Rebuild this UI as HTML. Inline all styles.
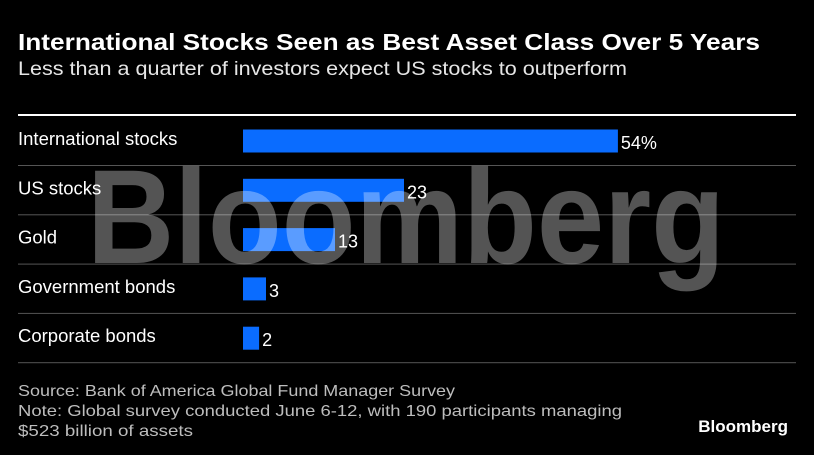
<!DOCTYPE html>
<html><head><meta charset="utf-8"><style>
body{margin:0;background:#000;width:814px;height:455px;overflow:hidden;font-family:"Liberation Sans",sans-serif}
</style></head><body>
<svg width="814" height="455" style="position:absolute;left:0;top:0">
<text x="18" y="50" fill="#fff" font-size="23" font-weight="bold" textLength="742" lengthAdjust="spacingAndGlyphs">International Stocks Seen as Best Asset Class Over 5 Years</text>
<text x="18" y="75" fill="#e6e6e6" font-size="19.5" textLength="609" lengthAdjust="spacingAndGlyphs">Less than a quarter of investors expect US stocks to outperform</text>
<rect x="18" y="114" width="778" height="2" fill="#fff"/>
<g id="rows"></g>
<text x="87" y="263" textLength="638" lengthAdjust="spacingAndGlyphs" font-size="134" font-weight="bold" fill="rgba(255,255,255,0.33)">Bloomberg</text>
<text x="18" y="396" fill="#bdbdbd" font-size="16" textLength="437" lengthAdjust="spacingAndGlyphs">Source: Bank of America Global Fund Manager Survey</text>
<text x="18" y="416" fill="#bdbdbd" font-size="16" textLength="604" lengthAdjust="spacingAndGlyphs">Note: Global survey conducted June 6-12, with 190 participants managing</text>
<text x="18" y="436" fill="#bdbdbd" font-size="16" textLength="175" lengthAdjust="spacingAndGlyphs">$523 billion of assets</text>
<text x="788" y="432" text-anchor="end" fill="#fff" font-size="17" font-weight="bold">Bloomberg</text>
</svg>
<script>
const categories=["International stocks","US stocks","Gold","Government bonds","Corporate bonds"];
const values=[54,23,13,3,2];
const valueLabels=["54%","23","13","3","2"];
const ns="http://www.w3.org/2000/svg";
const g=document.getElementById('rows');
const barW=v=>2.3+v*6.9;
const rowTop=i=>116+i*49.3;
function mk(t,a){const e=document.createElementNS(ns,t);for(const k in a)e.setAttribute(k,a[k]);g.appendChild(e);return e;}
categories.forEach((c,i)=>{
 const y0=rowTop(i), cy=y0+25;
 const lab=mk('text',{x:18,y:cy+4,fill:'#fff','font-size':18.5});lab.textContent=c;
 
 
 const w=barW(values[i]);
 const b=mk('rect',{x:243,y:cy-11.5,width:w,height:23,fill:'#0a6cff'});
 
 
 const vl=mk('text',{x:243+w+3,y:cy+8,fill:'#fff','font-size':18});vl.textContent=valueLabels[i];
 
 
 const s=mk('rect',{x:18,y:y0+49,width:778,height:1,fill:'#555'});
 
 
});
</script>
</body></html>
